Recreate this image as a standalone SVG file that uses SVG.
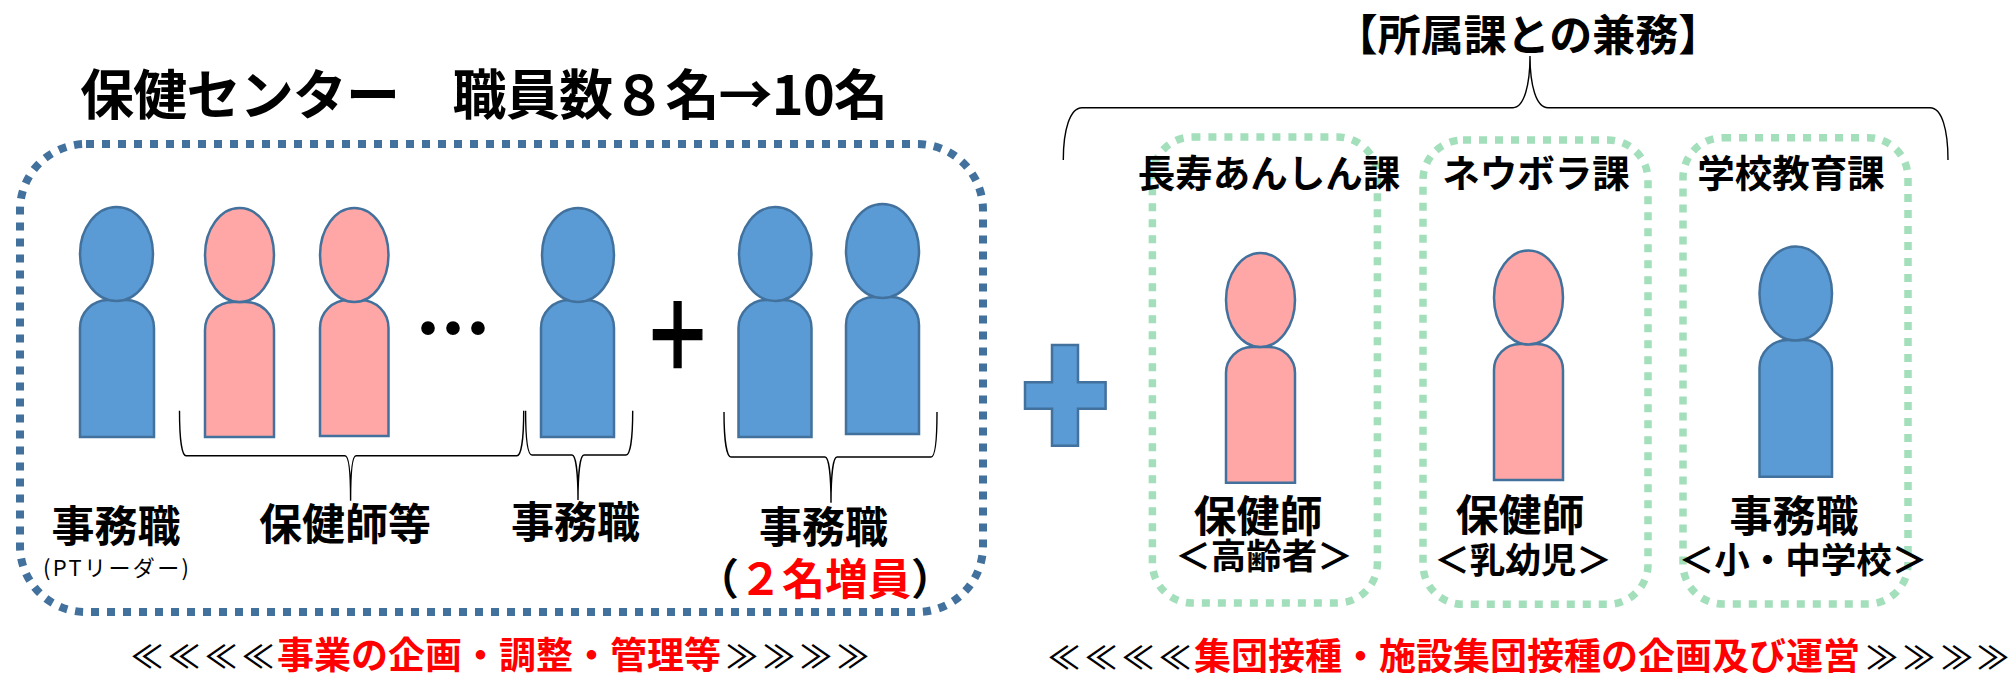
<svg xmlns="http://www.w3.org/2000/svg" width="2010" height="673" viewBox="0 0 2010 673">
<style>
text{font-family:"Noto Sans CJK JP","Noto Sans",sans-serif;font-weight:700;fill:#000}
.m{text-anchor:middle}
.t{font-size:54px}.l{font-size:43px}.h{font-size:37.500px}.s{font-size:35.500px}.b{font-size:37px}
.red{fill:#f00}
.f{font-size:22px;font-weight:400}
.mark{font-size:32px;font-weight:500}
.blue{fill:#5b9bd5;stroke:#41719c;stroke-width:2.5}
.pink{fill:#ffa6a6;stroke:#41719c;stroke-width:2.5}
.bx{fill:none;stroke:#41719c;stroke-width:8;stroke-dasharray:8 8}
.gx{fill:none;stroke:#a3dfbb;stroke-width:7.5;stroke-dasharray:8 8}
.br{fill:none;stroke:#000;stroke-width:1.4}
</style>
<rect width="2010" height="673" fill="#fff"/>
<g id="center-box"><rect class="bx" x="20" y="144" width="963" height="468" rx="66" ry="66"/></g>
<g id="title"><text class="t" x="80" y="115" textLength="808">保健センター　職員数８名→10名</text></g>

<g id="person-1"><path class="blue" d="M80 437V328a28 28 0 0 1 28-28h18a28 28 0 0 1 28 28V437Z"/><ellipse class="blue" cx="116.500" cy="254" rx="36.500" ry="47"/></g>
<g id="person-2"><path class="pink" d="M205 437V330a28 28 0 0 1 28-28h13a28 28 0 0 1 28 28V437Z"/><ellipse class="pink" cx="239.500" cy="255" rx="34.500" ry="47"/></g>
<g id="person-3"><path class="pink" d="M320 436V328a28 28 0 0 1 28-28h12.500a28 28 0 0 1 28 28V436Z"/><ellipse class="pink" cx="354.250" cy="255" rx="34.250" ry="47"/></g>
<g id="person-4"><path class="blue" d="M541 437V328a28 28 0 0 1 28-28h17a28 28 0 0 1 28 28V437Z"/><ellipse class="blue" cx="578" cy="255" rx="36" ry="47"/></g>
<g id="person-5"><path class="blue" d="M738.500 437V328a28 28 0 0 1 28-28h17a28 28 0 0 1 28 28V437Z"/><ellipse class="blue" cx="775.250" cy="254" rx="36.250" ry="47"/></g>
<g id="person-6"><path class="blue" d="M846 434V325a28 28 0 0 1 28-28h17a28 28 0 0 1 28 28V434Z"/><ellipse class="blue" cx="882.500" cy="251" rx="36.500" ry="47"/></g>

<g id="dots"><text x="453" y="357" class="m" font-size="75" stroke="#000" stroke-width="1.500">…</text></g>
<g id="plus-black"><text transform="translate(677.500 369) scale(.875 1.17)" class="m" font-size="78" stroke="#000" stroke-width="1.500">＋</text></g>

<g id="connectors">
<path class="br" d="M179.500 410.700C179.500 440 182 455.700 186 455.700H345C349 455.700 350.600 475 350.600 500.700C350.600 475 352 455.700 356 455.700H517C521 455.700 523.700 440 523.700 410.700"/>
<path class="br" d="M525.600 410.700C525.600 440 528 455 532 455H572C576 455 578 475 578 500C578 475 580 455 584 455H626C630 455 632.700 440 632.700 410.700"/>
<path class="br" d="M724 412C724 441 727 457 731 457H825C829 457 831 477 831 502.700C831 477 833 457 837 457H931C935 457 937 441 937 412"/>
<path class="br" d="M1063.300 160C1063.300 130 1070 107.700 1082 107.700H1513C1524 107.700 1530 85 1530 56C1530 85 1536 107.700 1548 107.700H1930C1942 107.700 1948 130 1948 160"/>
</g>

<g id="label-jimu-1"><text class="l m" x="116" y="542">事務職</text><text class="f m" x="116" y="576" textLength="146">(PTリーダー)</text></g>
<g id="label-hoken"><text class="l m" x="345" y="540">保健師等</text></g>
<g id="label-jimu-2"><text class="l m" x="575.500" y="538">事務職</text></g>
<g id="label-jimu-3"><text class="l m" x="823.500" y="543">事務職</text><text class="l m" x="825" y="595">（<tspan class="red">２名増員</tspan>）</text></g>

<g id="cross"><path class="blue" d="M1052 345H1078V382.300H1105.600V408.700H1078V445.700H1052V408.700H1025V382.300H1052Z"/></g>

<g id="top-label"><text class="m" font-size="43" x="1528" y="51">【所属課との兼務】</text></g>

<g id="section-chouju">
<rect class="gx" x="1152.400" y="137" width="225" height="466" rx="40" ry="40"/>
<text class="h m" x="1269" y="187">長寿あんしん課</text>
<path class="pink" d="M1226 482.700V373a26 26 0 0 1 26-26h17a26 26 0 0 1 26 26V482.700Z"/><ellipse class="pink" cx="1260.500" cy="300" rx="34.500" ry="47"/>
<text class="l m" x="1258" y="532">保健師</text>
<text class="s m" x="1264" y="569">＜高齢者＞</text>
</g>
<g id="section-neubora">
<rect class="gx" x="1423" y="140" width="225" height="464.300" rx="40" ry="40"/>
<text class="h m" x="1536" y="187">ネウボラ課</text>
<path class="pink" d="M1494 480V370a26 26 0 0 1 26-26h17a26 26 0 0 1 26 26V480Z"/><ellipse class="pink" cx="1528.500" cy="297.500" rx="34.500" ry="47"/>
<text class="l m" x="1520" y="531">保健師</text>
<text class="s m" x="1523" y="573">＜乳幼児＞</text>
</g>
<g id="section-gakkou">
<rect class="gx" x="1683" y="137.700" width="225" height="466.300" rx="40" ry="40"/>
<text class="h m" x="1791" y="187">学校教育課</text>
<path class="blue" d="M1759.500 476.700V368a28 28 0 0 1 28-28h16.500a28 28 0 0 1 28 28V476.700Z"/><ellipse class="blue" cx="1795.750" cy="293.500" rx="36.250" ry="47"/>
<text class="l m" x="1794" y="532">事務職</text>
<text class="s m" x="1803" y="573">＜小・中学校＞</text>
</g>

<g id="footer-left"><text class="b" y="669"><tspan class="mark" x="131 168 205 242" y="668">≪≪≪≪</tspan><tspan class="red" x="277" y="669">事業の企画・調整・管理等</tspan><tspan class="mark" x="726 763 800 837" y="668">≫≫≫≫</tspan></text></g>
<g id="footer-right"><text class="b" y="670"><tspan class="mark" x="1048 1085 1122 1159" y="669">≪≪≪≪</tspan><tspan class="red" x="1194" y="670">集団接種・施設集団接種の企画及び運営</tspan><tspan class="mark" x="1866 1903 1941 1977" y="669">≫≫≫≫</tspan></text></g>
</svg>
